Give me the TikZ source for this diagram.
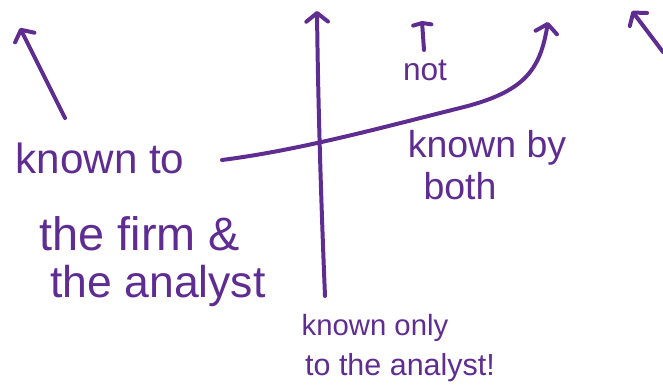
\documentclass[tikz,border=0pt]{standalone}
\usepackage{fontspec}
\setmainfont{Liberation Sans}
\usepackage{xcolor}
\usepackage{tikz}
\usetikzlibrary{arrows.meta,positioning}
\definecolor{ink}{RGB}{95,45,145}
\tikzstyle{hand}=[text=ink, inner sep=0pt, anchor=center]
\tikzstyle{stroke}=[draw=ink, line width=3.4pt, line cap=round, line join=round]
\tikzstyle{arrow}=[stroke, -{Straight Barb[length=2.6mm, width=6.5mm, line width=3.4pt, round]}]
\tikzstyle{tee}=[stroke, -{Straight Barb[length=0.6mm, width=5.5mm, line width=3.4pt, round]}]

\begin{document}
\begin{tikzpicture}[x=0.03cm, y=-0.03cm]
\useasboundingbox (0,0) rectangle (663,392);

\node (kt) [hand, font=\fontsize{36}{40}\selectfont] at (100,158) {known to};
\node (tf) [hand, font=\fontsize{40}{44}\selectfont] at (140,234) {the firm \&};
\node (ta) [hand, font=\fontsize{38}{42}\selectfont] at (158,286) {the analyst};
\node (nt) [hand, font=\fontsize{27}{30}\selectfont] at (425,70) {not};
\node (kb) [hand, font=\fontsize{32}{36}\selectfont] at (487,148) {known by};
\node (bo) [hand, font=\fontsize{32}{36}\selectfont] at (460,186) {both};
\node (ko) [hand, font=\fontsize{25}{29}\selectfont] at (375,328) {known only};
\node (tl) [hand, font=\fontsize{26}{30}\selectfont] at (400,368) {to the analyst!};

\coordinate (vb) at (325,296);
\coordinate (vt) at (317,11);
\coordinate (hs) at (222,160);
\coordinate (hm) at (460,108);
\coordinate (he) at (548,22);
\coordinate (ls) at (65,118);
\coordinate (le) at (20,28);
\coordinate (rs) at (663,52);
\coordinate (re) at (632,11);
\coordinate (ns) at (424,50);
\coordinate (ne) at (422,21);

\draw[arrow] (vb) .. controls (321,200) and (318,100) .. (vt);
\draw[arrow] (hs) .. controls (300,150) and (380,128) .. (hm) .. controls (525,92) and (540,70) .. (he);
\draw[arrow] (ls) -- (le);
\draw[arrow] (rs) -- (re);
\draw[tee] (ns) -- (ne);
\end{tikzpicture}
\end{document}
